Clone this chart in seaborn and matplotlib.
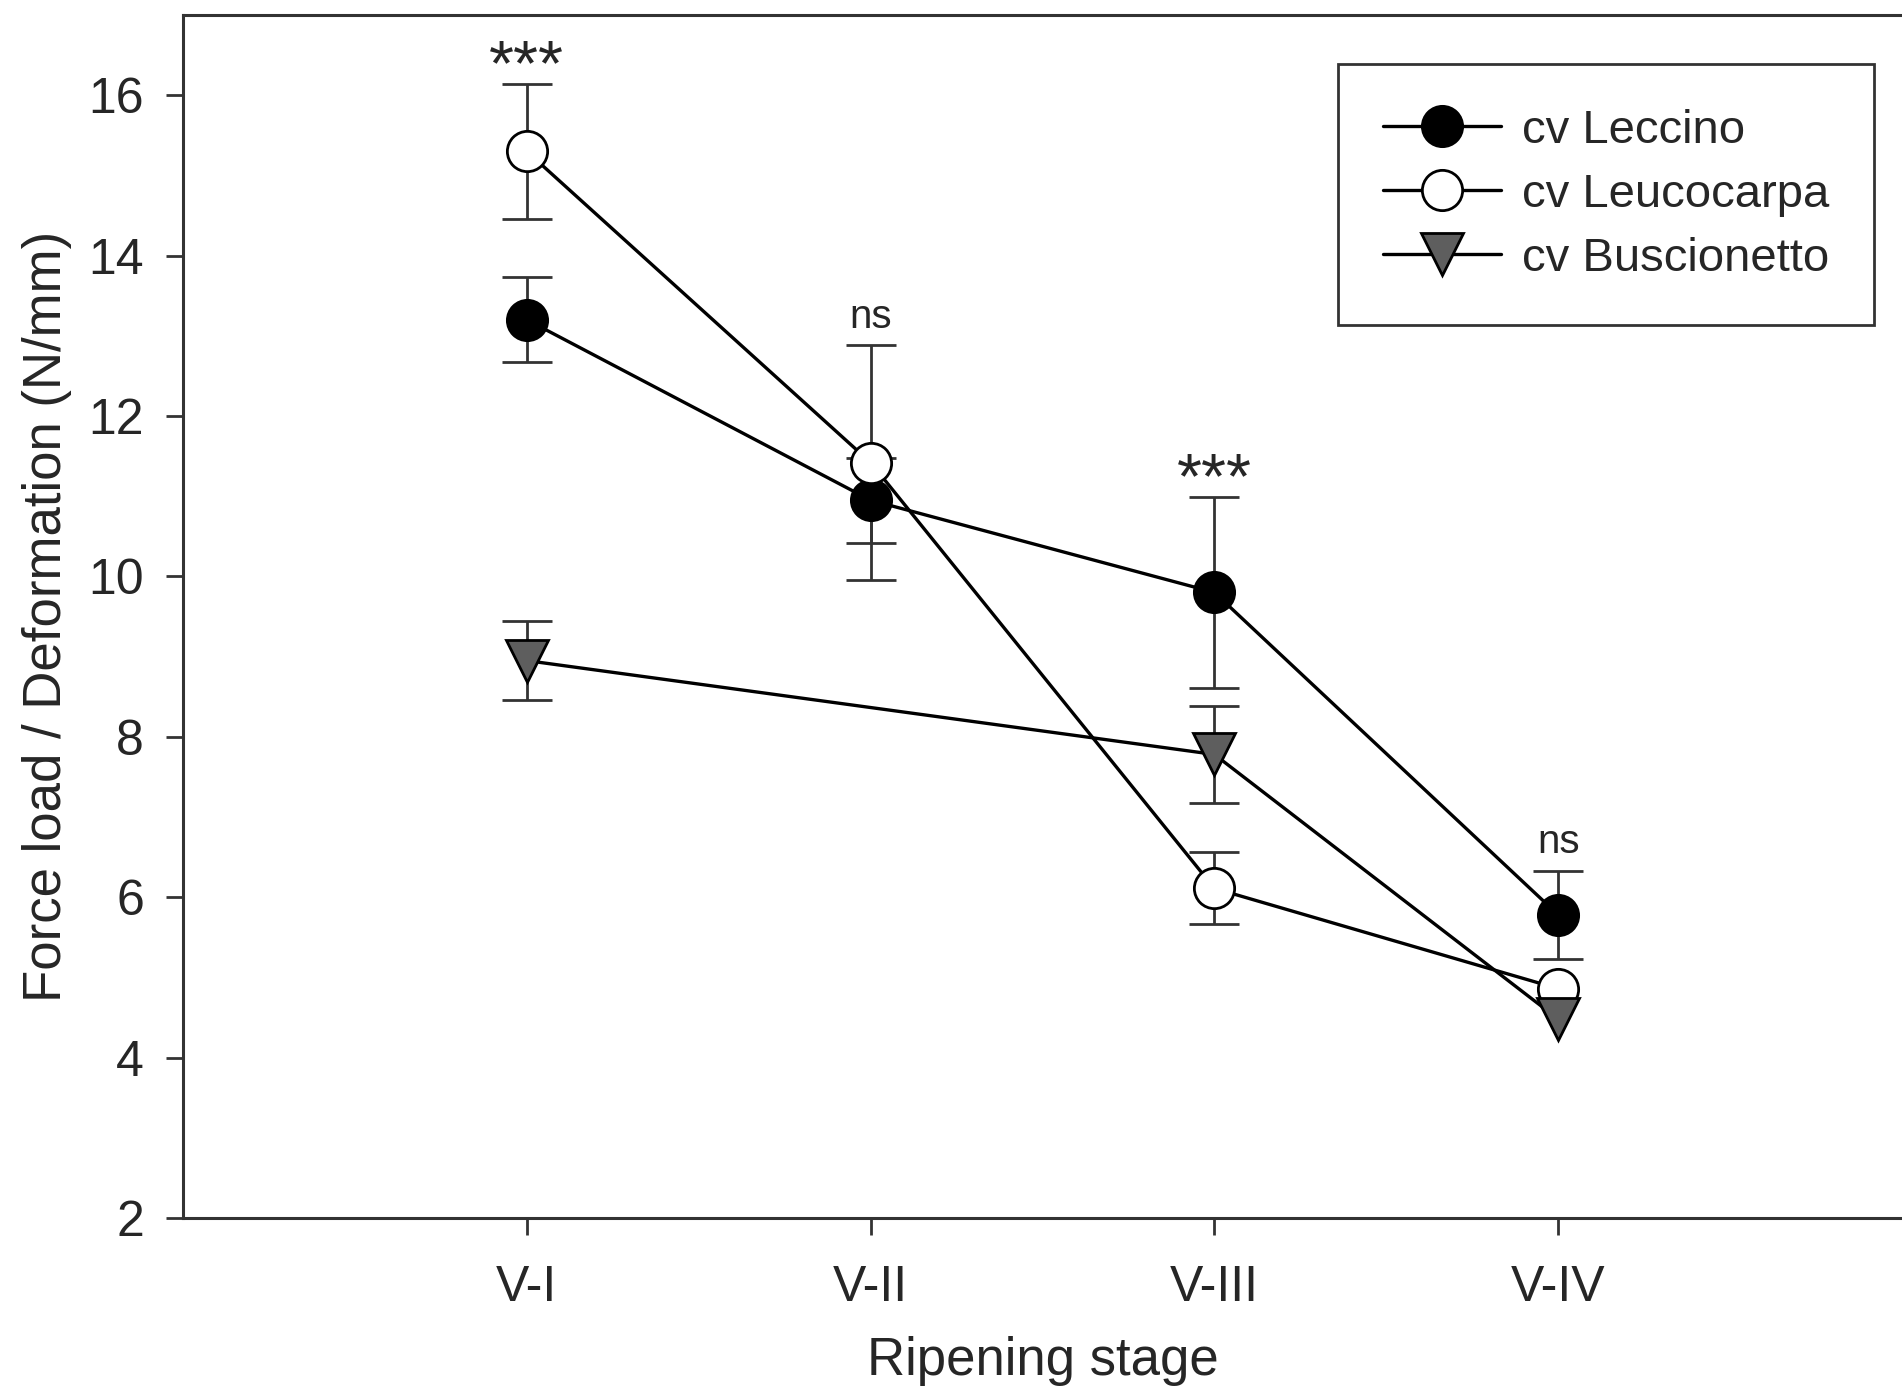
import numpy as np
import pandas as pd
import seaborn as sns
import matplotlib.pyplot as plt

# ripening stages and firmness (mean +/- error) per cultivar
# (error bars hidden behind the marker are given as 0)
stages = ['V-I', 'V-II', 'V-III', 'V-IV']
leccino_mean = [13.2, 10.95, 9.8, 5.78]
leccino_err = [0.53, 0.53, 1.19, 0.55]
leucocarpa_mean = [15.3, 11.42, 6.11, 4.86]
leucocarpa_err = [0.84, 1.46, 0.45, 0.0]
buscionetto_mean = [8.95, np.nan, 7.78, 4.48]
buscionetto_err = [0.49, np.nan, 0.6, 0.0]
significance = ['***', 'ns', '***', 'ns']

sns.set_style('ticks')
plt.rcParams['font.family'] = ['Liberation Sans', 'DejaVu Sans']

frames = []
for name, mean, err in [('cv Leccino', leccino_mean, leccino_err),
                        ('cv Leucocarpa', leucocarpa_mean, leucocarpa_err),
                        ('cv Buscionetto', buscionetto_mean, buscionetto_err)]:
    frames.append(pd.DataFrame({'stage': np.arange(1, len(stages) + 1), 'value': mean,
                                'err': err, 'cultivar': name}))
df = pd.concat(frames, ignore_index=True).dropna()

styles = {'cv Leccino': dict(marker='o', markerfacecolor='black', markersize=29),
          'cv Leucocarpa': dict(marker='o', markerfacecolor='white', markersize=29),
          'cv Buscionetto': dict(marker='v', markerfacecolor='#5e5e5e', markersize=30)}

fig = plt.figure(figsize=(19.02, 13.97), dpi=100)
ax = fig.add_axes([183 / 1902, 1 - 1218 / 1397, 1 - 183 / 1902, (1218 - 15) / 1397])

for name, sub in df.groupby('cultivar', sort=False):
    eb = sub[sub['err'] > 0]
    ax.errorbar(eb['stage'], eb['value'], yerr=eb['err'], fmt='none', ecolor='#333333',
                elinewidth=2, capsize=18, capthick=2, zorder=2)
    sns.lineplot(data=sub, x='stage', y='value', ax=ax, color='black', linewidth=2.4,
                 markeredgecolor='black', markeredgewidth=2, label=name, zorder=3,
                 **styles[name])

# significance marks above the highest error bar at each stage
for i, lab in enumerate(significance):
    top = df[df['stage'] == i + 1].eval('value + err').max()
    if lab == 'ns':
        ax.text(i + 1, top + 0.22, lab, ha='center', va='baseline', fontsize=29)
    else:
        ax.text(i + 1, top - 0.02, lab, ha='center', va='baseline', fontsize=46)

ax.set_xlim(0, 5)
ax.set_ylim(2, 17)
ax.set_xticks(range(1, len(stages) + 1))
ax.set_xticklabels(stages)
ax.set_yticks(range(2, 17, 2))
ax.tick_params(axis='both', direction='out', length=12, width=2, color='#333333',
               labelsize=36, pad=16)
ax.tick_params(axis='x', pad=22)
ax.set_xlabel('Ripening stage', fontsize=38, labelpad=18)
ax.set_ylabel('Force load / Deformation (N/mm)', fontsize=38, labelpad=12)

for side in ['left', 'bottom', 'top']:
    ax.spines[side].set_linewidth(2.2)
    ax.spines[side].set_color('#333333')
ax.spines['right'].set_visible(False)

leg = ax.legend(loc='upper right', bbox_to_anchor=(1874 / 1902, 1 - 64 / 1397),
                bbox_transform=fig.transFigure, fontsize=34, frameon=True, fancybox=False,
                edgecolor='black', handlelength=2.5, handletextpad=0.45, borderpad=0.95,
                labelspacing=0.42, borderaxespad=0)
leg.get_frame().set_linewidth(2)

plt.savefig('out.png', dpi=100)
plt.close()
